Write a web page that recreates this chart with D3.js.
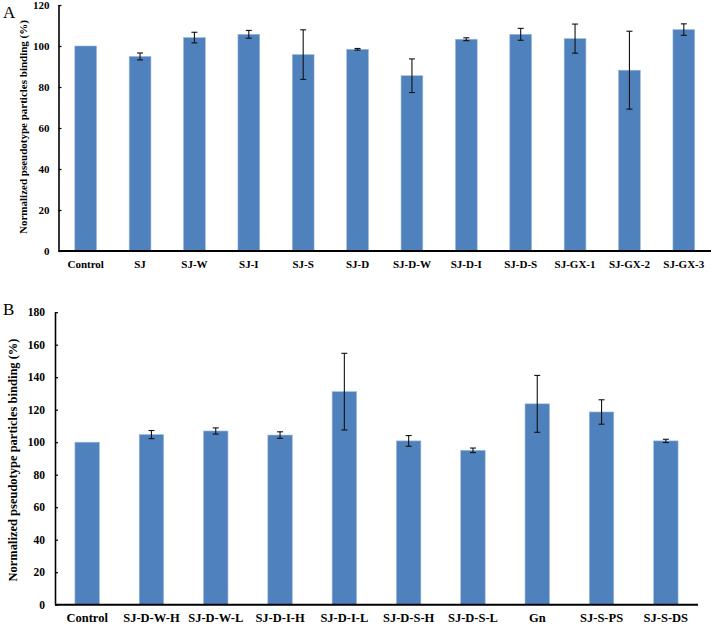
<!DOCTYPE html>
<html>
<head>
<meta charset="utf-8">
<script src="https://cdn.jsdelivr.net/npm/d3@7"></script>
<style>
  html, body { margin: 0; padding: 0; background: #fff; }
  svg { display: block; }
  text { font-family: "Liberation Serif", "Times New Roman", serif; }
</style>
</head>
<body>
<svg id="chart" width="711" height="626"></svg>
<script>
// Panel A data
const catsA = ["Control","SJ","SJ-W","SJ-I","SJ-S","SJ-D","SJ-D-W","SJ-D-I","SJ-D-S","SJ-GX-1","SJ-GX-2","SJ-GX-3"];
const valsA = [100, 94.9, 104.1, 105.7, 95.8, 98.4, 85.5, 103.3, 105.7, 103.6, 88.2, 108.0];
const errA  = [0, 1.7, 2.6, 1.9, 12.1, 0.4, 8.2, 0.7, 2.9, 7.1, 19.0, 2.8];
const ticksA = [0, 20, 40, 60, 80, 100, 120];

// Panel B data
const catsB = ["Control","SJ-D-W-H","SJ-D-W-L","SJ-D-I-H","SJ-D-I-L","SJ-D-S-H","SJ-D-S-L","Gn","SJ-S-PS","SJ-S-DS"];
const valsB = [100, 104.7, 106.9, 104.4, 131.1, 100.8, 95.0, 123.6, 118.6, 100.8];
const errB  = [0, 2.5, 1.9, 2.0, 23.6, 3.3, 1.4, 17.5, 7.5, 1.0];
const ticksB = [0, 20, 40, 60, 80, 100, 120, 140, 160, 180];

const yTitle = "Normalized pseudotype particles binding (%)";
const barColor = "#4F81BD";

const svg = d3.select("#chart");

function panel(cfg) {
  const g = svg.append("g");
  const x = d3.scaleBand().domain(cfg.cats).range([cfg.x0, cfg.x1])
    .paddingInner(cfg.pin).paddingOuter(cfg.pin / 2);
  const y = d3.scaleLinear().domain([0, cfg.ymax]).range([cfg.y0, cfg.y1]);

  // bars
  g.selectAll("rect.bar").data(cfg.cats).join("rect")
    .attr("class", "bar")
    .attr("x", d => x(d))
    .attr("width", x.bandwidth())
    .attr("y", (d, i) => y(cfg.vals[i]))
    .attr("height", (d, i) => y(0) - y(cfg.vals[i]))
    .attr("fill", barColor)
    .attr("stroke", "#9db8dc")
    .attr("stroke-width", 0.6);

  // error bars
  const eb = g.selectAll("g.err").data(cfg.cats.map((c, i) => ({c, v: cfg.vals[i], e: cfg.errs[i]})).filter(d => d.e > 0))
    .join("g").attr("class", "err")
    .attr("transform", d => `translate(${x(d.c) + x.bandwidth() / 2},0)`);
  eb.append("line").attr("x1", 0).attr("x2", 0)
    .attr("y1", d => y(d.v + d.e)).attr("y2", d => y(d.v - d.e))
    .attr("stroke", "#111").attr("stroke-width", 1.1);
  eb.append("line").attr("x1", -3).attr("x2", 3)
    .attr("y1", d => y(d.v + d.e)).attr("y2", d => y(d.v + d.e))
    .attr("stroke", "#111").attr("stroke-width", 1.1);
  eb.append("line").attr("x1", -3).attr("x2", 3)
    .attr("y1", d => y(d.v - d.e)).attr("y2", d => y(d.v - d.e))
    .attr("stroke", "#111").attr("stroke-width", 1.1);

  // y axis
  const ya = g.append("g").attr("transform", `translate(${cfg.x0},0)`)
    .call(d3.axisLeft(y).tickValues(cfg.ticks).tickSize(-3).tickPadding(cfg.tickPad).tickFormat(d3.format("d")));
  ya.select(".domain").attr("stroke", "#000").attr("stroke-width", 1.6)
    .attr("d", `M0.5,${cfg.y0}V${cfg.y1}`);
  ya.selectAll(".tick line").attr("stroke", "#000").attr("stroke-width", 1.2);
  ya.selectAll(".tick text").attr("fill", "#000").attr("font-weight", "bold")
    .attr("font-size", cfg.tickFont + "px")
    .style("font-family", '"Liberation Serif", "Times New Roman", serif');

  // x axis
  const xa = g.append("g").attr("transform", `translate(0,${cfg.y0})`)
    .call(d3.axisBottom(x).tickSize(0).tickPadding(cfg.xPad));
  xa.select(".domain").attr("stroke", "#000").attr("stroke-width", 2)
    .attr("d", `M${cfg.x0},0H${cfg.axisEnd}`);
  xa.selectAll(".tick text").attr("fill", "#000").attr("font-weight", "bold")
    .attr("font-size", cfg.xFont + "px")
    .style("font-family", '"Liberation Serif", "Times New Roman", serif');

  // y title
  g.append("text")
    .attr("transform", `translate(${cfg.titleX},${cfg.titleY}) rotate(-90)`)
    .attr("text-anchor", "middle")
    .attr("dominant-baseline", "middle")
    .attr("font-weight", "bold")
    .attr("font-size", cfg.titleFont + "px")
    .text(yTitle);

  // panel letter
  g.append("text").attr("x", 3).attr("y", cfg.letterY)
    .attr("font-size", "17px")
    .text(cfg.letter);
}

panel({
  cats: catsA, vals: valsA, errs: errA, ticks: ticksA, ymax: 120,
  x0: 58.5, x1: 711, axisEnd: 711, y0: 251, y1: 5, pin: 0.6,
  tickPad: 9, tickFont: 11, xFont: 11, xPad: 9,
  titleX: 24, titleY: 127, titleFont: 11, letter: "A", letterY: 18
});

panel({
  cats: catsB, vals: valsB, errs: errB, ticks: ticksB, ymax: 180,
  x0: 55, x1: 698, axisEnd: 698, y0: 604.7, y1: 312.2, pin: 0.62,
  tickPad: 10, tickFont: 11.5, xFont: 12.5, xPad: 8,
  titleX: 14, titleY: 460, titleFont: 12.5, letter: "B", letterY: 315
});
</script>
</body>
</html>
